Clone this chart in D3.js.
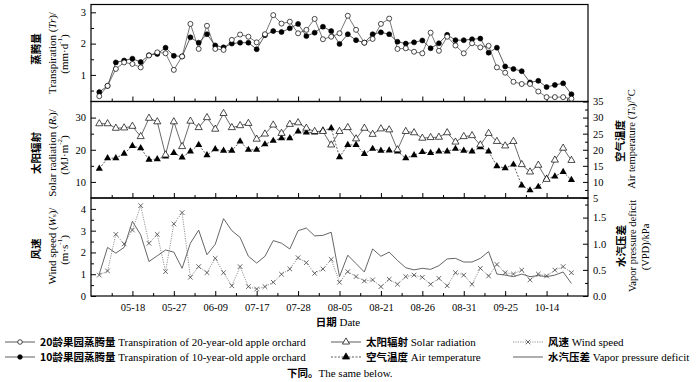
<!DOCTYPE html>
<html><head><meta charset="utf-8">
<script src="https://cdn.jsdelivr.net/npm/d3@7"></script>
<style>
body{margin:0;background:#fff;}
svg{display:block;}
text{font-family:"Liberation Serif","Times New Roman",serif;fill:#000;}
.cjk{font-family:"Noto Sans CJK SC",sans-serif;font-weight:700;}
</style></head><body>
<svg id="c" width="700" height="382"></svg>
<script>
// ---------------- data ----------------
const dateLabels = ["05-18","05-27","06-09","07-17","07-28","08-05","08-21","08-26","08-31","09-25","10-14"];
const tr20 = [0.32,0.65,1.19,1.40,1.35,1.24,1.62,1.72,1.69,1.16,1.59,2.63,1.83,2.57,1.83,1.80,2.12,2.29,2.22,2.04,2.30,2.91,2.64,2.70,2.33,2.44,2.79,2.14,2.22,2.33,2.89,2.44,2.03,2.15,2.63,2.80,1.83,1.85,1.74,1.69,2.35,1.77,2.22,1.94,1.69,2.01,1.88,1.93,1.24,1.07,0.78,0.71,0.71,0.47,0.29,0.29,0.29,0.24];
const tr10 = [0.45,0.65,1.40,1.46,1.52,1.41,1.63,1.67,1.87,1.61,1.59,2.20,2.03,2.30,1.94,1.88,2.00,2.03,2.03,1.82,2.27,2.40,2.37,2.49,2.63,2.24,2.35,2.54,2.40,1.99,2.30,2.11,2.03,2.30,2.36,2.30,2.06,2.00,2.04,2.10,1.85,2.01,2.28,2.11,2.11,2.14,2.16,1.71,1.87,1.27,1.19,1.12,0.76,0.81,0.61,0.68,0.73,0.38];
const solar = [28.1,28.1,26.7,26.8,27.3,24.1,29.8,28.7,18.4,28.7,21.0,28.9,26.9,30.0,26.4,31.3,26.9,27.5,28.2,23.3,24.9,27.7,25.1,27.9,28.4,26.7,25.7,25.7,21.5,25.7,26.9,23.4,26.7,24.8,26.5,26.2,20.0,25.7,25.3,23.6,23.8,23.9,25.3,22.4,24.1,24.4,21.5,25.1,22.6,21.2,22.6,15.4,13.1,15.2,10.8,16.8,20.5,16.7];
const airTemp = [14.1,17.4,17.4,18.8,21.2,20.5,16.9,17.1,17.9,19.0,17.6,19.5,21.5,18.3,20.2,19.7,19.7,22.6,20.0,20.0,21.7,22.8,23.6,23.6,25.7,25.4,25.4,26.0,26.7,17.7,21.5,21.5,18.7,20.3,19.7,19.8,19.5,17.4,18.3,19.3,19.0,19.5,19.5,20.3,19.7,19.5,20.8,19.5,14.9,14.3,15.4,8.9,7.4,8.5,11.0,11.7,13.1,10.6];
const wind = [0.96,1.15,2.83,2.39,3.03,4.15,2.42,2.83,1.12,3.31,3.83,0.86,1.35,1.07,1.73,1.07,0.47,1.35,0.43,0.32,0.43,0.63,1.00,1.24,1.76,1.53,1.04,1.24,1.68,0.63,1.12,0.89,0.69,0.74,0.43,0.77,0.54,0.89,0.96,0.86,0.54,0.81,0.47,1.07,0.96,0.54,1.27,0.92,1.45,1.07,1.01,1.19,0.74,1.01,0.92,1.19,1.35,1.07];
const vpd = [0.42,0.93,0.82,0.93,1.43,1.17,0.66,0.77,0.88,0.84,0.53,1.01,1.26,0.79,0.99,1.48,1.25,1.12,0.76,0.63,0.76,1.06,1.01,0.90,1.25,1.30,1.15,1.16,1.22,0.37,0.78,0.62,0.46,0.90,0.76,0.84,0.68,0.54,0.50,0.53,0.51,0.58,0.71,0.72,0.65,0.65,0.72,0.85,0.42,0.40,0.37,0.42,0.37,0.39,0.37,0.40,0.46,0.24];

// ---------------- layout ----------------
const svg = d3.select("#c");
const L = 91, R = 588;
const P = [{top:4.5,bot:101.5},{top:101.5,bot:198},{top:198,bot:296}];
const majorIdx = dateLabels.map((d,i)=>4+5*i);
const minorIdx = d3.range(1.5, 59, 5);

const x = d3.scaleLinear().domain([-1,59]).range([L,R]);
const y1 = d3.scaleLinear().domain([0.15,3.25]).range([P[0].bot,P[0].top]);
const y2 = d3.scaleLinear().domain([5,35]).range([P[1].bot,P[1].top]);
const y3w = d3.scaleLinear().domain([0,4.5]).range([P[2].bot,P[2].top]);
const y3v = d3.scaleLinear().domain([0,1.875]).range([P[2].bot,P[2].top]);

const FS = 10.5, TF = 11;
function styleAxis(g){
  g.select(".domain").remove();
  g.selectAll(".tick line").attr("stroke","#000").attr("stroke-width",1);
  g.selectAll("text").attr("font-size",FS).attr("font-family","Liberation Serif");
}

// x axes
P.forEach((p,k)=>{
  const last = k===2;
  svg.append("g").attr("transform",`translate(0,${p.bot})`)
    .call(d3.axisBottom(x).tickValues(majorIdx).tickSizeInner(-5).tickSizeOuter(0).tickPadding(8)
      .tickFormat((d,i)=> last ? dateLabels[i] : ""))
    .call(styleAxis);
  svg.append("g").attr("transform",`translate(0,${p.bot})`)
    .call(d3.axisBottom(x).tickValues(minorIdx).tickSizeInner(-3).tickSizeOuter(0).tickFormat(""))
    .call(styleAxis);
});

function yAxis(scale, xpos, side, major, minor, fmt){
  const ax = side==="left" ? d3.axisLeft : d3.axisRight;
  svg.append("g").attr("transform",`translate(${xpos},0)`)
    .call(ax(scale).tickValues(major).tickSizeInner(-5).tickSizeOuter(0).tickPadding(5).tickFormat(fmt||d3.format("d")))
    .call(styleAxis);
  svg.append("g").attr("transform",`translate(${xpos},0)`)
    .call(ax(scale).tickValues(minor).tickSizeInner(-3).tickSizeOuter(0).tickFormat(""))
    .call(styleAxis);
}
yAxis(y1, L, "left", [1,2,3], [0.5,1.5,2.5]);
yAxis(y2, L, "left", [10,20,30], [15,25]);
yAxis(y2, R, "right", [5,10,15,20,25,30,35], [7.5,12.5,17.5,22.5,27.5,32.5]);
yAxis(y3w, L, "left", [0,1,2,3,4], [0.5,1.5,2.5,3.5]);
yAxis(y3v, R, "right", [0,0.5,1.0,1.5], [0.25,0.75,1.25,1.75], d3.format(".1f"));

// frames
P.forEach(p=>{
  svg.append("rect").attr("x",L).attr("y",p.top).attr("width",R-L).attr("height",p.bot-p.top)
    .attr("fill","none").attr("stroke","#000").attr("stroke-width",1.2);
});

// ---------------- series ----------------
const tri = d3.symbol().type(d3.symbolTriangle).size(22);
const crossPath = "M-2.3,-2.3L2.3,2.3M-2.3,2.3L2.3,-2.3";

function line(data, ys, stroke, dash, w){
  svg.append("path").datum(data)
    .attr("d", d3.line().x((d,i)=>x(i)).y(d=>ys(d)))
    .attr("fill","none").attr("stroke",stroke).attr("stroke-width",w||0.8)
    .attr("stroke-dasharray",dash||null);
}
// panel 1
line(tr20, y1, "#555");
line(tr10, y1, "#333");
svg.append("g").selectAll("circle").data(tr10).join("circle")
  .attr("cx",(d,i)=>x(i)).attr("cy",d=>y1(d)).attr("r",2.5).attr("fill","#000").attr("stroke","#000").attr("stroke-width",0.6);
svg.append("g").selectAll("circle").data(tr20).join("circle")
  .attr("cx",(d,i)=>x(i)).attr("cy",d=>y1(d)).attr("r",2.5).attr("fill","#fff").attr("stroke","#000").attr("stroke-width",0.7);

// panel 2
line(solar, y2, "#444");
line(airTemp, y2, "#333", "2,1.5");
svg.append("g").selectAll("path").data(airTemp).join("path")
  .attr("d",tri).attr("transform",(d,i)=>`translate(${x(i)},${y2(d)})`).attr("fill","#000");
svg.append("g").selectAll("path").data(solar).join("path")
  .attr("d",tri).attr("transform",(d,i)=>`translate(${x(i)},${y2(d)})`).attr("fill","#fff").attr("stroke","#000").attr("stroke-width",0.7);

// panel 3
line(vpd, y3v, "#555", null, 0.9);
line(wind, y3w, "#777", "1.2,1.2");
svg.append("g").selectAll("path").data(wind).join("path")
  .attr("d",crossPath).attr("transform",(d,i)=>`translate(${x(i)},${y3w(d)})`).attr("fill","none").attr("stroke","#444").attr("stroke-width",0.8);

// ---------------- axis titles ----------------
function vtitle(cx, cy, build, fs){
  const t = svg.append("text").attr("transform",`translate(${cx},${cy}) rotate(-90)`)
    .attr("text-anchor","middle").attr("dominant-baseline","central").attr("font-size",fs||TF);
  build(t);
}
function cjk(cx, cy, s){ vtitle(cx,cy,t=>t.attr("class","cjk").text(s),10.5); }

// panel 1 left
cjk(35, 49, "蒸腾量");
vtitle(52, 53, t=>{ t.append("tspan").text("Transpiration ("); t.append("tspan").attr("font-style","italic").text("Tr"); t.append("tspan").text(")/"); });
vtitle(64, 54, t=>{ t.append("tspan").text("(mm·d"); t.append("tspan").attr("font-size",7).attr("dy",-4).text("-1"); t.append("tspan").attr("dy",4).text(")"); });
// panel 2 left
cjk(35, 153, "太阳辐射");
vtitle(52, 153, t=>{ t.append("tspan").text("Solar radiation ("); t.append("tspan").attr("font-style","italic").text("R"); t.append("tspan").attr("font-size",7).attr("dy",2).text("s"); t.append("tspan").attr("dy",-2).text(")/"); });
vtitle(64, 155, t=>{ t.append("tspan").text("(MJ·m"); t.append("tspan").attr("font-size",7).attr("dy",-4).text("-2"); t.append("tspan").attr("dy",4).text(")"); });
// panel 3 left
cjk(35, 249, "风速");
vtitle(52, 246, t=>{ t.append("tspan").text("Wind speed ("); t.append("tspan").attr("font-style","italic").text("W"); t.append("tspan").attr("font-size",7).attr("dy",2).text("s"); t.append("tspan").attr("dy",-2).text(")/"); });
vtitle(64, 250, t=>{ t.append("tspan").text("(m·s"); t.append("tspan").attr("font-size",7).attr("dy",-4).text("-1"); t.append("tspan").attr("dy",4).text(")"); });
// panel 2 right
cjk(619, 141, "空气温度");
vtitle(631, 139, t=>{ t.append("tspan").text("Air temperature ("); t.append("tspan").attr("font-style","italic").text("T"); t.append("tspan").attr("font-size",7).attr("dy",2).text("a"); t.append("tspan").attr("dy",-2).text(")/°C"); }, 10.5);
// panel 3 right
cjk(620, 246, "水汽压差");
vtitle(632, 246, t=>t.text("Vapor pressure deficit"), 10.5);
vtitle(645, 247, t=>t.text("(VPD)/kPa"), 10.5);

// x title
const xt = svg.append("text").attr("x",338).attr("y",326).attr("text-anchor","middle").attr("font-size",TF);
xt.append("tspan").attr("class","cjk").attr("font-size",10.5).text("日期");
xt.append("tspan").text(" Date");

// ---------------- legend ----------------
const legend = [
  {x:5, y:342, cn:"20龄果园蒸腾量", en:" Transpiration of 20-year-old apple orchard", m:"circleOpen", dash:null},
  {x:5, y:357, cn:"10龄果园蒸腾量", en:" Transpiration of 10-year-old apple orchard", m:"circleFill", dash:null},
  {x:331, y:342, cn:"太阳辐射", en:" Solar radiation", m:"triOpen", dash:null},
  {x:331, y:357, cn:"空气温度", en:" Air temperature", m:"triFill", dash:"2,1.5"},
  {x:513, y:342, cn:"风速", en:" Wind speed", m:"cross", dash:"1.2,1.2"},
  {x:513, y:357, cn:"水汽压差", en:" Vapor pressure deficit", m:null, dash:null}
];
legend.forEach(it=>{
  const len = 30;
  svg.append("line").attr("x1",it.x).attr("x2",it.x+len).attr("y1",it.y).attr("y2",it.y)
    .attr("stroke", it.m==="cross" ? "#777" : "#333").attr("stroke-width",0.8).attr("stroke-dasharray",it.dash);
  const cx = it.x+len/2;
  if(it.m==="circleOpen"||it.m==="circleFill")
    svg.append("circle").attr("cx",cx).attr("cy",it.y).attr("r",2.3).attr("fill",it.m==="circleFill"?"#000":"#fff").attr("stroke","#000").attr("stroke-width",0.7);
  if(it.m==="triOpen"||it.m==="triFill")
    svg.append("path").attr("d",tri).attr("transform",`translate(${cx},${it.y})`).attr("fill",it.m==="triFill"?"#000":"#fff").attr("stroke","#000").attr("stroke-width",0.7);
  if(it.m==="cross")
    svg.append("path").attr("d",crossPath).attr("transform",`translate(${cx},${it.y})`).attr("fill","none").attr("stroke","#444").attr("stroke-width",0.8);
  const t = svg.append("text").attr("x",it.x+len+5).attr("y",it.y+4).attr("font-size",TF);
  t.append("tspan").attr("class","cjk").attr("font-size",10.5).text(it.cn);
  t.append("tspan").text(it.en);
});
const note = svg.append("text").attr("x",287).attr("y",377).attr("font-size",TF);
note.append("tspan").attr("class","cjk").attr("font-size",10.5).text("下同。");
note.append("tspan").text("The same below.");
</script>
</body></html>
